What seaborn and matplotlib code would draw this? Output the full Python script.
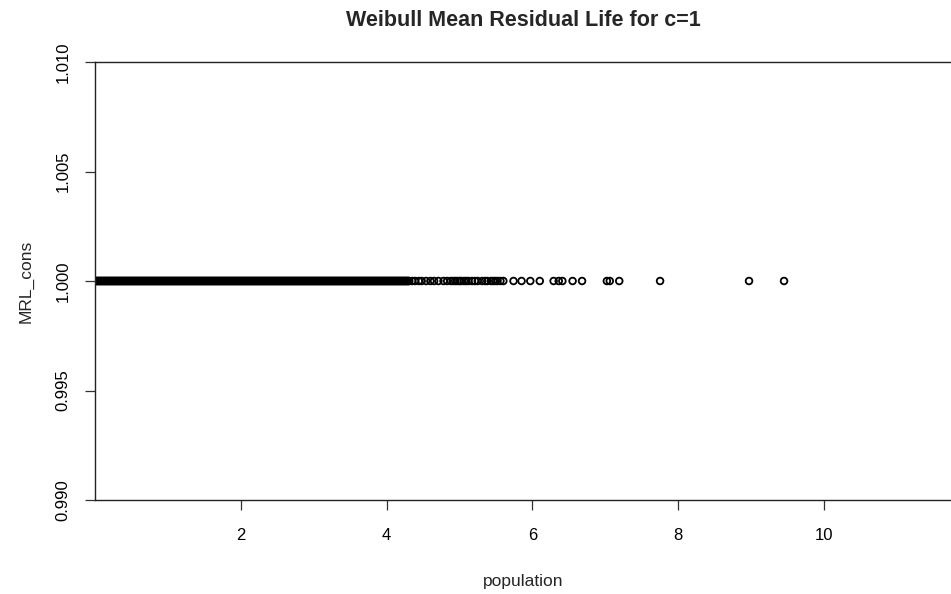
import matplotlib
matplotlib.use("Agg")
import matplotlib.pyplot as plt
import seaborn as sns
import pandas as pd

# Simulated Weibull (c=1) population values, sorted
population_body = [
    0.00, 0.01, 0.02, 0.03, 0.04, 0.05, 0.06, 0.07, 0.08, 0.09, 0.10, 0.11, 0.12, 0.13, 0.14, 0.15, 0.16, 0.17, 0.18, 0.19,
    0.20, 0.21, 0.22, 0.23, 0.24, 0.25, 0.26, 0.27, 0.28, 0.29, 0.30, 0.31, 0.32, 0.33, 0.34, 0.35, 0.36, 0.37, 0.38, 0.39,
    0.40, 0.41, 0.42, 0.43, 0.44, 0.45, 0.46, 0.47, 0.48, 0.49, 0.50, 0.51, 0.52, 0.53, 0.54, 0.55, 0.56, 0.57, 0.58, 0.59,
    0.60, 0.61, 0.62, 0.63, 0.64, 0.65, 0.66, 0.67, 0.68, 0.69, 0.70, 0.71, 0.72, 0.73, 0.74, 0.75, 0.76, 0.77, 0.78, 0.79,
    0.80, 0.81, 0.82, 0.83, 0.84, 0.85, 0.86, 0.87, 0.88, 0.89, 0.90, 0.91, 0.92, 0.93, 0.94, 0.95, 0.96, 0.97, 0.98, 0.99,
    1.00, 1.01, 1.02, 1.03, 1.04, 1.05, 1.06, 1.07, 1.08, 1.09, 1.10, 1.11, 1.12, 1.13, 1.14, 1.15, 1.16, 1.17, 1.18, 1.19,
    1.20, 1.21, 1.22, 1.23, 1.24, 1.25, 1.26, 1.27, 1.28, 1.29, 1.30, 1.31, 1.32, 1.33, 1.34, 1.35, 1.36, 1.37, 1.38, 1.39,
    1.40, 1.41, 1.42, 1.43, 1.44, 1.45, 1.46, 1.47, 1.48, 1.49, 1.50, 1.51, 1.52, 1.53, 1.54, 1.55, 1.56, 1.57, 1.58, 1.59,
    1.60, 1.61, 1.62, 1.63, 1.64, 1.65, 1.66, 1.67, 1.68, 1.69, 1.70, 1.71, 1.72, 1.73, 1.74, 1.75, 1.76, 1.77, 1.78, 1.79,
    1.80, 1.81, 1.82, 1.83, 1.84, 1.85, 1.86, 1.87, 1.88, 1.89, 1.90, 1.91, 1.92, 1.93, 1.94, 1.95, 1.96, 1.97, 1.98, 1.99,
    2.00, 2.01, 2.02, 2.03, 2.04, 2.05, 2.06, 2.07, 2.08, 2.09, 2.10, 2.11, 2.12, 2.13, 2.14, 2.15, 2.16, 2.17, 2.18, 2.19,
    2.20, 2.21, 2.22, 2.23, 2.24, 2.25, 2.26, 2.27, 2.28, 2.29, 2.30, 2.31, 2.32, 2.33, 2.34, 2.35, 2.36, 2.37, 2.38, 2.39,
    2.40, 2.41, 2.42, 2.43, 2.44, 2.45, 2.46, 2.47, 2.48, 2.49, 2.50, 2.51, 2.52, 2.53, 2.54, 2.55, 2.56, 2.57, 2.58, 2.59,
    2.60, 2.61, 2.62, 2.63, 2.64, 2.65, 2.66, 2.67, 2.68, 2.69, 2.70, 2.71, 2.72, 2.73, 2.74, 2.75, 2.76, 2.77, 2.78, 2.79,
    2.80, 2.81, 2.82, 2.83, 2.84, 2.85, 2.86, 2.87, 2.88, 2.89, 2.90, 2.91, 2.92, 2.93, 2.94, 2.95, 2.96, 2.97, 2.98, 2.99,
    3.00, 3.01, 3.02, 3.03, 3.04, 3.05, 3.06, 3.07, 3.08, 3.09, 3.10, 3.11, 3.12, 3.13, 3.14, 3.15, 3.16, 3.17, 3.18, 3.19,
    3.20, 3.21, 3.22, 3.23, 3.24, 3.25, 3.26, 3.27, 3.28, 3.29, 3.30, 3.31, 3.32, 3.33, 3.34, 3.35, 3.36, 3.37, 3.38, 3.39,
    3.40, 3.41, 3.42, 3.43, 3.44, 3.45, 3.46, 3.47, 3.48, 3.49, 3.50, 3.51, 3.52, 3.53, 3.54, 3.55, 3.56, 3.57, 3.58, 3.59,
    3.60, 3.61, 3.62, 3.63, 3.64, 3.65, 3.66, 3.67, 3.68, 3.69, 3.70, 3.71, 3.72, 3.73, 3.74, 3.75, 3.76, 3.77, 3.78, 3.79,
    3.80, 3.81, 3.82, 3.83, 3.84, 3.85, 3.86, 3.87, 3.88, 3.89, 3.90, 3.91, 3.92, 3.93, 3.94, 3.95, 3.96, 3.97, 3.98, 3.99,
    4.00, 4.01, 4.02, 4.03, 4.04, 4.05, 4.06, 4.07, 4.08, 4.09, 4.10, 4.11, 4.12, 4.13, 4.14, 4.15, 4.16, 4.17, 4.18, 4.19,
    4.20, 4.21, 4.22, 4.23, 4.24, 4.25, 4.26, 4.27, 4.28, 4.29, 4.30, 4.31,
]
population_tail = [
    4.35, 4.39, 4.44, 4.48, 4.54, 4.60, 4.65, 4.71, 4.78, 4.83, 4.88, 4.91, 4.94, 4.97, 5.00, 5.02,
    5.06, 5.09, 5.12, 5.17, 5.21, 5.25, 5.31, 5.35, 5.38, 5.43, 5.46, 5.49, 5.52, 5.56, 5.60, 5.74,
    5.85, 5.97, 6.10, 6.29, 6.36, 6.41, 6.55, 6.68, 7.02, 7.06, 7.19, 7.75, 8.97, 9.45,
]
population = population_body + population_tail

# Mean residual life of an exponential (Weibull c=1) is constant
mrl_value = 1.0
mrl_cons = [mrl_value for _ in population]

x_ticks = [2, 4, 6, 8, 10]
y_ticks = [0.990, 0.995, 1.000, 1.005, 1.010]

df = pd.DataFrame({"population": population, "MRL_cons": mrl_cons})

sns.set_theme(style="white")
plt.rcParams["font.family"] = ["Liberation Sans", "DejaVu Sans"]

fig = plt.figure(figsize=(9.51, 5.94), dpi=100)
ax = fig.add_axes([95 / 951, 94 / 594, 856 / 951, 438 / 594])

sns.scatterplot(
    data=df, x="population", y="MRL_cons", ax=ax,
    marker="o", s=23, facecolor="none", edgecolor="black", linewidth=1.3,
)

ax.set_xlim(0.0, 11.74)
ax.set_ylim(0.990, 1.010)
ax.set_xticks(x_ticks)
ax.set_xticklabels([str(t) for t in x_ticks])
ax.set_yticks(y_ticks)
ax.set_yticklabels([f"{t:.3f}" for t in y_ticks], rotation=90, va="center")

for side in ("left", "top", "bottom"):
    ax.spines[side].set_visible(True)
    ax.spines[side].set_color("#222222")
    ax.spines[side].set_linewidth(1.0)
ax.spines["right"].set_visible(False)

ax.tick_params(axis="both", which="major", direction="out", length=7.5, width=0.9,
               color="#333333", labelsize=12, labelcolor="black",
               bottom=True, left=True)
ax.tick_params(axis="x", pad=13)
ax.tick_params(axis="y", pad=10)

ax.set_xlabel("population", fontsize=12.5, labelpad=22)
ax.set_ylabel("MRL_cons", fontsize=12.5, labelpad=16)
fig.text((95 + 951) / 2 / 951, 1 - 20 / 594, "Weibull Mean Residual Life for c=1",
         ha="center", va="center", fontsize=15.5, fontweight="bold")

fig.savefig("out.png", dpi=100, facecolor="white")
